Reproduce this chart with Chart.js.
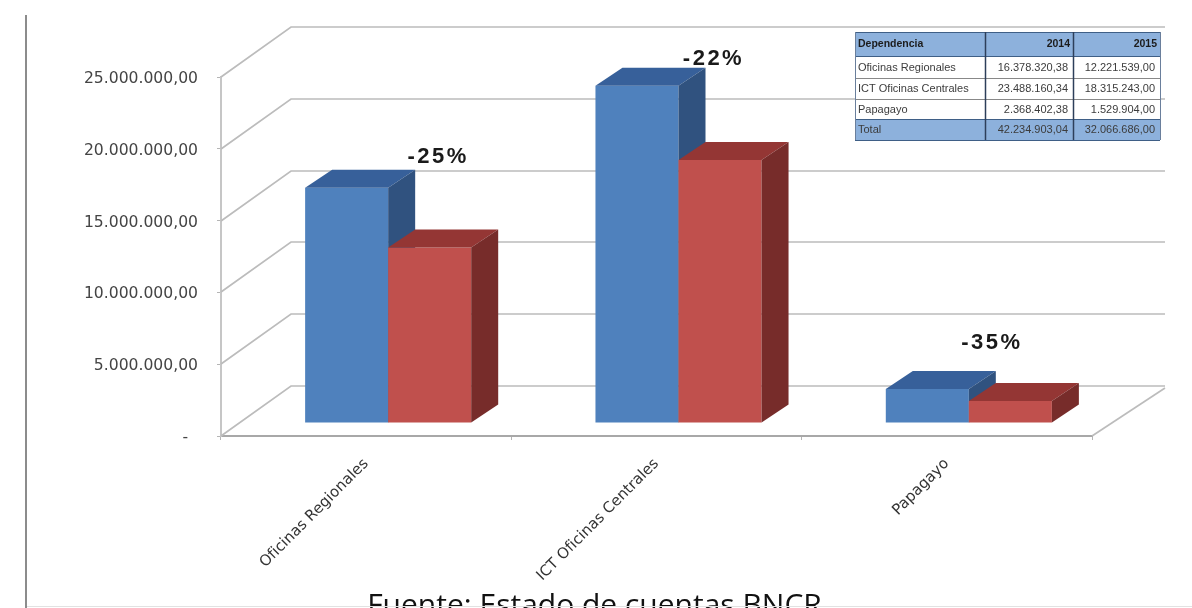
<!DOCTYPE html>
<html lang="es"><head><meta charset="utf-8">
<style>
html,body{margin:0;padding:0;background:#fff;width:1192px;height:608px;overflow:hidden}
#wrap{position:relative;width:1192px;height:608px;overflow:hidden}
canvas{position:absolute;left:0;top:0;filter:blur(.75px)}
#src{position:absolute;left:0;width:1189px;top:587px;text-align:center;font:30px "Open Sans",sans-serif;color:#111;white-space:nowrap;line-height:34px}
#rule{position:absolute;left:25px;top:15px;width:2px;height:593px;background:#8c8c8c;filter:blur(.4px)}
#foot{position:absolute;left:27px;right:0;top:606px;height:1px;background:#e2e2e2}
</style></head><body>
<div id="wrap"><canvas id="c" width="1192" height="608"></canvas><div id="rule"></div>
<div id="src">Fuente: Estado de cuentas BNCR</div><div id="foot"></div></div>
<script src="https://cdn.jsdelivr.net/npm/chart.js@4"></script>
<script>
const categories=["Oficinas Regionales","ICT Oficinas Centrales","Papagayo"];
const values2014=[16378320.38,23488160.34,2368402.38];
const values2015=[12221539,18315243,1529904];
const changeLabels=["-25%","-22%","-35%"];
const yTicks=[0,5000000,10000000,15000000,20000000,25000000];
const yTickLabels=["-  ","5.000.000,00","10.000.000,00","15.000.000,00","20.000.000,00","25.000.000,00"];
const tableHead=["Dependencia","2014","2015"];
const tableNames=["Oficinas Regionales","ICT Oficinas Centrales","Papagayo","Total"];
const table2014=["16.378.320,38","23.488.160,34","2.368.402,38","42.234.903,04"];
const table2015=["12.221.539,00","18.315.243,00","1.529.904,00","32.066.686,00"];

const WALL={dx:70,dy:-50,right:1165};
const BAR={dx:22,dy:-13,depthX:27,depthY:-18};
const SHADES=[{top:"#37609a",side:"#30527f"},{top:"#943634",side:"#772c2a"}];
const LABEL_DX=[50,35,23], LABEL_LIFT=[32,28,47];

function poly(ctx,pts,fill){ctx.beginPath();pts.forEach((p,i)=>i?ctx.lineTo(p[0],p[1]):ctx.moveTo(p[0],p[1]));ctx.closePath();ctx.fillStyle=fill;ctx.fill();}
function extrude(c,meta,s){
  meta.data.forEach(b=>{const l=b.x-b.width/2,r=b.x+b.width/2,t=b.y,bt=b.base;
   poly(c,[[l,t],[l+BAR.depthX,t+BAR.depthY],[r+BAR.depthX,t+BAR.depthY],[r,t]],s.top);
   poly(c,[[r,t],[r+BAR.depthX,t+BAR.depthY],[r+BAR.depthX,bt+BAR.depthY],[r,bt]],s.side);
  });
}

const wall3d={id:"wall3d",
 afterLayout(chart){
  const y=chart.scales.y;
  if(!y._shifted){const o=y.drawLabels;y.drawLabels=function(a){const c=this.ctx;c.save();c.translate(0,2);o.call(this,a);c.restore();};y._shifted=true;}
 },
 beforeDatasetsDraw(chart){
  const {ctx,scales:{x,y}}=chart;ctx.save();ctx.strokeStyle="#bcbcbc";ctx.lineWidth=1.7;
  yTicks.forEach(v=>{const py=Math.round(y.getPixelForValue(v));
   ctx.beginPath();ctx.moveTo(x.left,py);ctx.lineTo(x.left+WALL.dx,py+WALL.dy);ctx.lineTo(WALL.right,py+WALL.dy);ctx.stroke();});
  const by=y.getPixelForValue(0);
  ctx.beginPath();ctx.moveTo(x.right,by);ctx.lineTo(WALL.right,by+WALL.dy+2);ctx.stroke();
  ctx.restore();
 },
 beforeDatasetDraw(chart,args){
  if(args.index===1) return false;
  const c=chart.ctx;c.save();c.translate(BAR.dx,BAR.dy);
 },
 afterDatasetDraw(chart,args){
  const c=chart.ctx;extrude(c,args.meta,SHADES[0]);c.restore();
 },
 afterDatasetsDraw(chart){
  const c=chart.ctx,m=chart.getDatasetMeta(1);
  c.save();c.translate(BAR.dx,BAR.dy);m.controller.draw();extrude(c,m,SHADES[1]);c.restore();
 },
 afterDraw(chart){
  const {ctx:c,scales:{x,y}}=chart;c.save();
  c.fillStyle="#1a1a1a";c.font='bold 22px "Liberation Sans"';c.letterSpacing="2.5px";c.textAlign="center";c.textBaseline="middle";
  changeLabels.forEach((t,i)=>{c.fillText(t,x.getPixelForValue(i)+BAR.dx+LABEL_DX[i],y.getPixelForValue(values2014[i])+BAR.dy-LABEL_LIFT[i]+1);});
  c.letterSpacing="0px";
  const X=[855,985,1073,1160],Y=[32,56,78,99,119,140];
  c.fillStyle="#8db1dc";c.fillRect(X[0],Y[0],X[3]-X[0],Y[1]-Y[0]);c.fillRect(X[0],Y[4],X[3]-X[0],Y[5]-Y[4]);
  c.fillStyle="#fff";c.fillRect(X[0],Y[1],X[3]-X[0],Y[4]-Y[1]);
  c.lineWidth=1;
  Y.forEach((v,i)=>{c.strokeStyle=(i===0||i===1||i===4||i===5)?"#3f5f86":"#888";c.beginPath();c.moveTo(X[0],v+.5);c.lineTo(X[3],v+.5);c.stroke();});
  X.forEach((v,i)=>{c.strokeStyle=(i===1||i===2)?"#2d3f5a":"#6a7f9c";c.lineWidth=(i===1||i===2)?1.5:1;c.beginPath();c.moveTo(v+.5,Y[0]);c.lineTo(v+.5,Y[5]);c.stroke();});
  c.textBaseline="middle";
  c.font='bold 10.5px "Liberation Sans"';c.fillStyle="#1c1c1c";
  c.textAlign="left";c.fillText(tableHead[0],858,(Y[0]+Y[1])/2);
  c.textAlign="right";c.fillText(tableHead[1],1070,(Y[0]+Y[1])/2);c.fillText(tableHead[2],1157,(Y[0]+Y[1])/2);
  c.font='11px "Liberation Sans"';c.fillStyle="#3c3c3c";
  tableNames.forEach((n,i)=>{const m=(Y[i+1]+Y[i+2])/2+.5;
   c.textAlign="left";c.fillText(n,858,m);c.textAlign="right";c.fillText(table2014[i],1068,m);c.fillText(table2015[i],1155,m);});
  c.restore();
 }};

new Chart(document.getElementById("c"),{
 type:"bar",
 data:{labels:categories,datasets:[
  {label:"2014",data:values2014,backgroundColor:"#4f81bd",clip:false,borderWidth:0},
  {label:"2015",data:values2015,backgroundColor:"#c0504d",clip:false,borderWidth:0}]},
 plugins:[wall3d],
 options:{responsive:false,animation:false,devicePixelRatio:1,
  layout:{padding:{left:0,top:77,right:100,bottom:0}},
  categoryPercentage:.572,barPercentage:1,
  plugins:{legend:{display:false},tooltip:{enabled:false},title:{display:false}},
  scales:{
   x:{afterFit(s){s.height=172;},
    grid:{drawOnChartArea:false,color:"#b5b5b5",tickLength:4},border:{color:"#a8a8a8",width:2},
    ticks:{minRotation:45,maxRotation:45,color:"#333",padding:15,font:{family:"DejaVu Sans",size:15}}},
   y:{min:0,max:25000000,afterFit(s){s.width=221;},
    afterBuildTicks(s){s.ticks=yTicks.map(v=>({value:v}));},
    grid:{drawOnChartArea:false,color:"#b5b5b5",tickLength:4},border:{color:"#c6c6c6",width:2},
    ticks:{color:"#444",padding:19,font:{family:"DejaVu Sans",size:15.6},
     callback:(v)=>yTickLabels[yTicks.indexOf(v)]}}
  }}
});
</script></body></html>
